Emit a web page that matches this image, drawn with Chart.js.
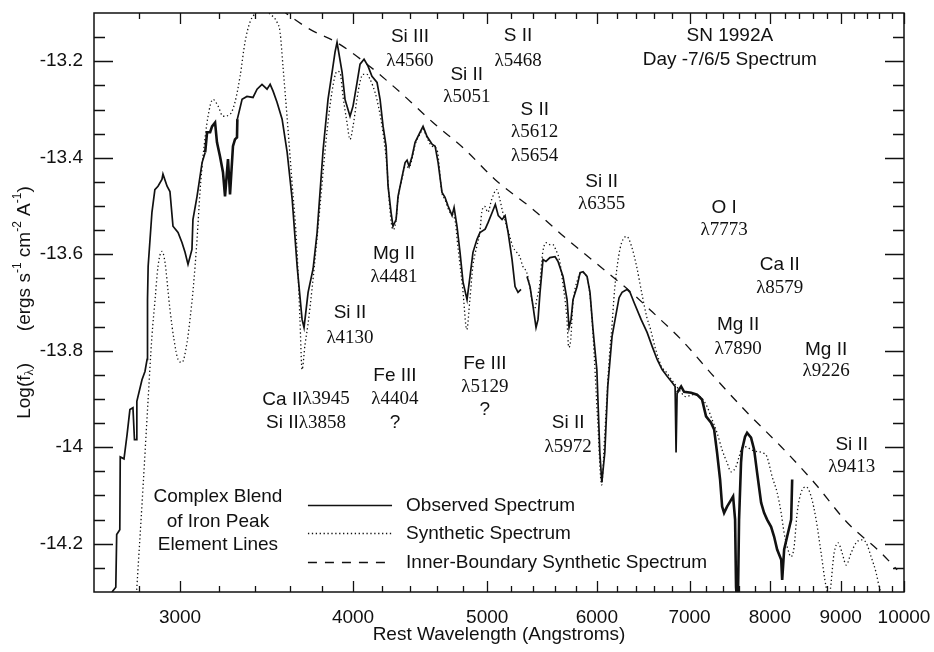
<!DOCTYPE html>
<html><head><meta charset="utf-8">
<script src="https://cdn.jsdelivr.net/npm/chart.js@4.4.0/dist/chart.umd.min.js"></script>
<style>html,body{margin:0;padding:0;background:#fff}</style>
</head><body>
<canvas id="c" width="934" height="652" style="width:934px;height:652px;display:block"></canvas>
<script>
// ---------- data ----------
const obsWave = [2679,2696,2700,2714,2716,2733,2747,2760,2774,2781,2790,2792,2816,2830,2840,2842,2845,2863,2877,2892,2911,2916,2936,2950,2965,2990,3010,3025,3040,3060,3065,3086,3112,3128,3138,3154,3164,3180,3190,3206,3222,3233,3249,3260,3276,3287,3298,3300,3326,3353,3387,3410,3438,3467,3485,3502,3525,3555,3585,3615,3645,3675,3687,3712,3743,3768,3806,3837,3863,3882,3895,3928,3947,3980,4000,4027,4047,4074,4101,4128,4163,4184,4205,4226,4240,4261,4275,4297,4311,4340,4362,4376,4391,4413,4435,4472,4494,4524,4562,4585,4608,4638,4661,4685,4716,4732,4755,4779,4803,4835,4859,4883,4916,4940,4983,5008,5042,5068,5093,5125,5151,5177,5211,5237,5263,5289,5310,5342,5369,5396,5423,5441,5459,5486,5513,5550,5597,5625,5672,5710,5729,5748,5767,5806,5835,5864,5903,5932,5962,6000,6030,6050,6080,6110,6154,6185,6226,6257,6289,6310,6341,6383,6458,6523,6578,6633,6688,6744,6800,6834,6845,6857,6880,6903,6937,7018,7088,7147,7195,7255,7292,7328,7365,7390,7414,7451,7501,7526,7551,7563,7576,7589,7601,7626,7639,7677,7703,7754,7794,7833,7885,7924,7964,8017,8057,8098,8153,8166,8193,8234,8289,8303];
const obsFlux = [-14.30,-14.29,-14.181,-14.171,-14.02,-14.024,-13.974,-13.922,-13.918,-13.984,-13.984,-13.905,-13.86,-13.843,-13.818,-13.694,-13.625,-13.513,-13.466,-13.459,-13.445,-13.434,-13.459,-13.47,-13.542,-13.555,-13.576,-13.596,-13.621,-13.59,-13.528,-13.48,-13.41,-13.389,-13.347,-13.347,-13.335,-13.327,-13.368,-13.397,-13.43,-13.48,-13.403,-13.476,-13.376,-13.362,-13.358,-13.32,-13.279,-13.273,-13.275,-13.258,-13.248,-13.258,-13.248,-13.262,-13.285,-13.32,-13.389,-13.486,-13.625,-13.735,-13.752,-13.679,-13.63,-13.555,-13.383,-13.279,-13.223,-13.181,-13.161,-13.223,-13.279,-13.314,-13.293,-13.244,-13.206,-13.196,-13.21,-13.231,-13.244,-13.279,-13.335,-13.376,-13.459,-13.513,-13.542,-13.528,-13.48,-13.439,-13.41,-13.405,-13.418,-13.397,-13.368,-13.347,-13.335,-13.356,-13.372,-13.376,-13.41,-13.472,-13.482,-13.5,-13.52,-13.503,-13.542,-13.596,-13.658,-13.694,-13.646,-13.596,-13.569,-13.555,-13.548,-13.534,-13.513,-13.497,-13.52,-13.528,-13.52,-13.555,-13.611,-13.667,-13.679,-13.673,null,-13.646,-13.667,-13.708,-13.752,-13.735,-13.679,-13.611,-13.615,-13.607,-13.605,-13.615,-13.646,-13.694,-13.752,-13.735,-13.694,-13.667,-13.638,-13.636,-13.646,-13.679,-13.756,-13.839,-14.011,-14.073,-14.011,-13.874,-13.77,-13.735,-13.69,-13.679,-13.675,-13.673,-13.679,-13.70,-13.735,-13.762,-13.791,-13.818,-13.839,-13.853,-13.866,-13.874,-14.011,-13.887,-13.88,-13.874,-13.885,-13.887,-13.891,-13.901,-13.936,-13.949,-13.963,-14.011,-14.067,-14.123,-14.136,-14.123,-14.109,-14.102,-14.15,-14.29,-14.32,-14.29,-14.15,-14.032,-14.005,-13.978,-13.97,-13.98,-14.005,-14.053,-14.115,-14.136,-14.15,-14.165,-14.185,-14.212,-14.233,-14.275,-14.212,-14.185,-14.15,-14.067];

const synWave = [2788,2821,2844,2863,2878,2892,2911,2926,2940,2950,2970,2990,3010,3035,3050,3066,3086,3101,3117,3143,3169,3196,3222,3260,3287,3315,3342,3370,3410,3444,3484,3525,3543,3560,3584,3614,3644,3662,3675,3693,3711,3736,3767,3786,3830,3862,3895,3914,3934,3960,3980,4000,4026,4046,4067,4094,4114,4135,4162,4204,4232,4253,4274,4296,4310,4339,4361,4390,4412,4434,4471,4493,4523,4561,4599,4637,4660,4699,4738,4762,4801,4833,4858,4882,4914,4939,4955,4980,5005,5038,5080,5106,5131,5165,5191,5217,5252,5278,5305,5340,5367,5393,5411,5429,5456,5484,5520,5548,5576,5603,5641,5669,5707,5726,5745,5764,5812,5851,5899,5929,5959,6008,6048,6078,6129,6150,6180,6221,6253,6305,6357,6410,6464,6518,6561,6616,6682,6738,6794,6851,6896,6954,7053,7136,7208,7268,7328,7389,7451,7501,7563,7601,7639,7690,7754,7832,7897,7963,8031,8098,8152,8192,8234,8288,8330,8372,8427,8498,8569,8640,8712,8785,8829,8903,8962,9022,9083,9158,9235,9312,9390,9468,9547,9595,9643];
const synFlux = [-14.32,-14.082,-13.907,-13.77,-13.694,-13.625,-13.594,-13.617,-13.673,-13.714,-13.777,-13.818,-13.824,-13.783,-13.735,-13.673,-13.569,-13.472,-13.397,-13.314,-13.279,-13.293,-13.314,-13.31,-13.285,-13.231,-13.161,-13.119,-13.098,-13.092,-13.102,-13.119,-13.14,-13.21,-13.314,-13.451,-13.59,-13.735,-13.839,-13.787,-13.746,-13.673,-13.569,-13.501,-13.347,-13.264,-13.221,-13.223,-13.273,-13.327,-13.362,-13.335,-13.279,-13.244,-13.227,-13.227,-13.237,-13.252,-13.279,-13.347,-13.418,-13.507,-13.549,-13.532,-13.486,-13.445,-13.418,-13.42,-13.403,-13.374,-13.351,-13.341,-13.358,-13.376,-13.383,-13.472,-13.486,-13.513,-13.528,-13.584,-13.673,-13.756,-13.694,-13.625,-13.584,-13.555,-13.513,-13.501,-13.513,-13.486,-13.466,-13.486,-13.513,-13.542,-13.563,-13.584,-13.596,-13.605,-13.625,-13.638,-13.667,-13.704,-13.714,-13.694,-13.663,-13.596,-13.576,-13.58,-13.58,-13.59,-13.615,-13.658,-13.729,-13.793,-13.777,-13.708,-13.652,-13.638,-13.646,-13.679,-13.756,-13.943,-14.078,-13.978,-13.804,-13.756,-13.673,-13.605,-13.576,-13.563,-13.584,-13.625,-13.679,-13.729,-13.756,-13.797,-13.833,-13.845,-13.86,-13.874,-13.885,-13.895,-13.891,-13.897,-13.916,-13.943,-13.97,-14.005,-14.032,-14.051,-14.04,-14.02,-14.001,-13.999,-14.005,-14.009,-14.011,-14.02,-14.061,-14.094,-14.136,-14.177,-14.206,-14.227,-14.206,-14.136,-14.094,-14.082,-14.102,-14.15,-14.219,-14.289,-14.306,-14.219,-14.198,-14.219,-14.244,-14.219,-14.198,-14.192,-14.198,-14.227,-14.26,-14.289,-14.31];

const innerWave = [3470,3604,3724,3893,4094,4325,4569,4819,5065,5396,5710,6030,6341,6633,6905,7292,7703,8153,8612,9098,9627,9886];
const innerFlux = [-13.07,-13.107,-13.134,-13.161,-13.206,-13.264,-13.327,-13.383,-13.445,-13.507,-13.569,-13.625,-13.677,-13.729,-13.777,-13.854,-13.928,-13.999,-14.073,-14.156,-14.219,-14.254];

const seriesNames = ['Observed Spectrum','Synthetic Spectrum','Inner-Boundary Synthetic Spectrum'];

const xMajorTicks = [3000,4000,5000,6000,7000,8000,9000,10000];
const xMinorTicks = [2800,3200,3400,3600,3800,4200,4400,4600,4800,5200,5400,5600,5800,6200,6400,6600,6800,7200,7400,7600,7800,8200,8400,8600,8800,9200,9400,9600,9800];
const yMajorTicks = [-14.2,-14.0,-13.8,-13.6,-13.4,-13.2];
const yMinorTicks = [-14.25,-14.15,-14.1,-14.05,-13.95,-13.9,-13.85,-13.75,-13.7,-13.65,-13.55,-13.5,-13.45,-13.35,-13.3,-13.25,-13.15];

// noisy (thick-looking) stretches of the observed spectrum, in Angstroms
const noisyRanges = [[3125, 3300], [6850, 8310]];

// line annotations: anchor (wavelength, log flux), parts: [text, 's'ans|'r'oman]
const annotations = [
  {x:7485, y:-13.148, parts:[['SN 1992A','s']]},
  {x:7485, y:-13.196, parts:[['Day -7/6/5 Spectrum','s']]},
  {x:4397, y:-13.150, parts:[['Si III','s']]},
  {x:4397, y:-13.200, parts:[['λ4560','r']]},
  {x:4833, y:-13.227, parts:[['Si II','s']]},
  {x:4833, y:-13.275, parts:[['λ5051','r']]},
  {x:5263, y:-13.148, parts:[['S II','s']]},
  {x:5263, y:-13.200, parts:[['λ5468','r']]},
  {x:5411, y:-13.300, parts:[['S II','s']]},
  {x:5411, y:-13.347, parts:[['λ5612','r']]},
  {x:5411, y:-13.397, parts:[['λ5654','r']]},
  {x:6048, y:-13.449, parts:[['Si II','s']]},
  {x:6048, y:-13.495, parts:[['λ6355','r']]},
  {x:7414, y:-13.503, parts:[['O I','s']]},
  {x:7414, y:-13.549, parts:[['λ7773','r']]},
  {x:8133, y:-13.621, parts:[['Ca II','s']]},
  {x:8133, y:-13.669, parts:[['λ8579','r']]},
  {x:7589, y:-13.746, parts:[['Mg II','s']]},
  {x:7589, y:-13.797, parts:[['λ7890','r']]},
  {x:8785, y:-13.797, parts:[['Mg II','s']]},
  {x:8785, y:-13.843, parts:[['λ9226','r']]},
  {x:9168, y:-13.995, parts:[['Si II','s']]},
  {x:9168, y:-14.042, parts:[['λ9413','r']]},
  {x:4282, y:-13.600, parts:[['Mg II','s']]},
  {x:4282, y:-13.648, parts:[['λ4481','r']]},
  {x:3980, y:-13.721, parts:[['Si II','s']]},
  {x:3980, y:-13.773, parts:[['λ4130','r']]},
  {x:3699, y:-13.901, parts:[['Ca II','s'],['λ3945','r']]},
  {x:3699, y:-13.949, parts:[['Si II','s'],['λ3858','r']]},
  {x:4289, y:-13.851, parts:[['Fe III','s']]},
  {x:4289, y:-13.901, parts:[['λ4404','r']]},
  {x:4289, y:-13.949, parts:[['?','s']]},
  {x:4980, y:-13.826, parts:[['Fe III','s']]},
  {x:4980, y:-13.876, parts:[['λ5129','r']]},
  {x:4980, y:-13.923, parts:[['?','s']]},
  {x:5720, y:-13.949, parts:[['Si II','s']]},
  {x:5720, y:-13.999, parts:[['λ5972','r']]},
  {x:3195, y:-14.102, parts:[['Complex Blend','s']]},
  {x:3195, y:-14.154, parts:[['of Iron Peak','s']]},
  {x:3195, y:-14.202, parts:[['Element Lines','s']]}
];
// legend sample anchors (wavelength from/to, text start, flux per row)
const legendFrom = 3711, legendTo = 4268, legendText = 4369;
const legendRows = [-14.119, -14.177, -14.237];

// ---------- styling ----------
const INK = '#111';
const SANS = '"Liberation Sans", Arial, sans-serif';
const SERIF = '"Liberation Serif", "Times New Roman", serif';
const FS = 19;
const styles = [
  {borderWidth:1.7, borderDash:[]},
  {borderWidth:1.3, borderDash:[1.3,2.6]},
  {borderWidth:1.3, borderDash:[9,8]}
];

function xy(w, f){ return w.map((v,i)=>({x:v, y:f[i]})); }
function inNoisy(v){ return noisyRanges.some(r => v >= r[0] && v <= r[1]); }

const decorPlugin = {
  id:'decor',
  afterDraw(chart){
    const {ctx, chartArea:a, scales:{x, y}} = chart;
    ctx.save();
    // frame
    ctx.strokeStyle = INK; ctx.lineWidth = 1.5;
    ctx.strokeRect(a.left, a.top, a.right-a.left, a.bottom-a.top);
    // ticks (inward, all four sides)
    ctx.lineWidth = 1.3;
    ctx.beginPath();
    const xt = (vals, len) => vals.forEach(v => {
      const p = Math.round(x.getPixelForValue(v)) + 0.5;
      ctx.moveTo(p, a.bottom); ctx.lineTo(p, a.bottom-len);
      ctx.moveTo(p, a.top); ctx.lineTo(p, a.top+len);
    });
    const yt = (vals, len) => vals.forEach(v => {
      const p = Math.round(y.getPixelForValue(v)) + 0.5;
      ctx.moveTo(a.left, p); ctx.lineTo(a.left+len, p);
      ctx.moveTo(a.right, p); ctx.lineTo(a.right-len, p);
    });
    xt(xMajorTicks, 11); xt(xMinorTicks, 6);
    yt(yMajorTicks, 19); yt(yMinorTicks, 11);
    ctx.stroke();

    // annotations
    ctx.fillStyle = INK; ctx.textBaseline = 'middle'; ctx.textAlign = 'left';
    const fontOf = k => (k === 'r' ? `${FS}px ${SERIF}` : `${FS}px ${SANS}`);
    annotations.forEach(an => {
      let w = 0;
      an.parts.forEach(([t,k]) => { ctx.font = fontOf(k); w += ctx.measureText(t).width; });
      let px = x.getPixelForValue(an.x) - w/2;
      const py = y.getPixelForValue(an.y);
      an.parts.forEach(([t,k]) => { ctx.font = fontOf(k); ctx.fillText(t, px, py); px += ctx.measureText(t).width; });
    });

    // legend
    const lx0 = x.getPixelForValue(legendFrom), lx1 = x.getPixelForValue(legendTo);
    const tx = x.getPixelForValue(legendText);
    legendRows.forEach((fv, i) => {
      const py = Math.round(y.getPixelForValue(fv)) + 0.5;
      ctx.save();
      ctx.strokeStyle = INK; ctx.lineWidth = styles[i].borderWidth;
      ctx.setLineDash(styles[i].borderDash);
      ctx.beginPath(); ctx.moveTo(lx0, py); ctx.lineTo(lx1, py); ctx.stroke();
      ctx.restore();
      ctx.font = `${FS}px ${SANS}`;
      ctx.fillText(seriesNames[i], tx, py);
    });

    // y-axis title with sub/superscripts (rotated)
    const parts = [
      ['Log(f', 0, FS, SANS], ['λ', 5, 13, SERIF], [')      (ergs s', 0, FS, SANS],
      ['-1', -7, 12, SANS], [' cm', 0, FS, SANS], ['-2', -7, 12, SANS],
      [' A', 0, FS, SANS], ['-1', -7, 12, SANS], [')', 0, FS, SANS]
    ];
    let total = 0;
    parts.forEach(p => { ctx.font = `${p[2]}px ${p[3]}`; total += ctx.measureText(p[0]).width; });
    ctx.translate(25, (a.top + a.bottom)/2);
    ctx.rotate(-Math.PI/2);
    let cx = -total/2;
    parts.forEach(p => { ctx.font = `${p[2]}px ${p[3]}`; ctx.fillText(p[0], cx, p[1]); cx += ctx.measureText(p[0]).width; });
    ctx.restore();
  }
};

new Chart(document.getElementById('c'), {
  type: 'line',
  data: {
    datasets: [
      {label: seriesNames[0], data: xy(obsWave, obsFlux), borderColor: INK, borderWidth: styles[0].borderWidth, pointRadius: 0, tension: 0, spanGaps: false,
       segment: {borderWidth: c => (inNoisy(c.p0.parsed.x) && inNoisy(c.p1.parsed.x)) ? 2.6 : undefined}},
      {label: seriesNames[1], data: xy(synWave, synFlux), borderColor: INK, borderWidth: styles[1].borderWidth, borderDash: styles[1].borderDash, pointRadius: 0, cubicInterpolationMode: 'monotone'},
      {label: seriesNames[2], data: xy(innerWave, innerFlux), borderColor: INK, borderWidth: styles[2].borderWidth, borderDash: styles[2].borderDash, pointRadius: 0, cubicInterpolationMode: 'monotone'}
    ]
  },
  options: {
    responsive: false, animation: false, devicePixelRatio: 1,
    layout: {padding: {top: 13, right: 30, left: 0, bottom: 0}},
    plugins: {legend: {display: false}, tooltip: {enabled: false}},
    elements: {point: {radius: 0}},
    scales: {
      x: {
        type: 'logarithmic', min: 2600, max: 10000,
        afterBuildTicks: s => { s.ticks = xMajorTicks.map(v => ({value: v})); },
        afterFit: s => { s.height = 60; s.paddingLeft = 0; s.paddingRight = 0; },
        grid: {display: false, drawTicks: false},
        border: {display: false},
        ticks: {callback: v => String(v), color: INK, font: {family: SANS, size: FS}, padding: 14, maxRotation: 0, autoSkip: false},
        title: {display: true, text: 'Rest Wavelength (Angstroms)', color: INK, font: {family: SANS, size: FS}, padding: {top: 0, bottom: 6}}
      },
      y: {
        min: -14.3, max: -13.1,
        afterBuildTicks: s => { s.ticks = yMajorTicks.map(v => ({value: v})); },
        afterFit: s => { s.width = 94; s.paddingTop = 0; s.paddingBottom = 0; },
        grid: {display: false, drawTicks: false},
        border: {display: false},
        ticks: {callback: v => String(Math.round(v*10)/10), color: INK, font: {family: SANS, size: FS}, padding: 11}
      }
    }
  },
  plugins: [decorPlugin]
});
</script>
</body></html>
